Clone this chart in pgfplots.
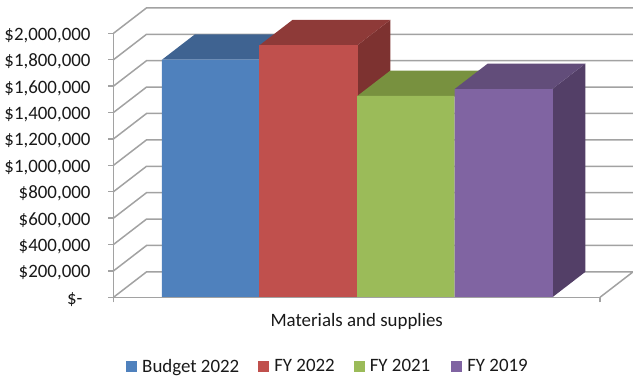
\documentclass[border=0pt]{standalone}
\usepackage{fontspec}
\setmainfont{Carlito}
\usepackage{pgfplots}
\pgfplotsset{compat=1.18}
\definecolor{wall}{HTML}{A2A2A2}
\definecolor{blueF}{HTML}{4F81BD}\definecolor{blueT}{HTML}{3F6391}
\definecolor{redF}{HTML}{C0504D}\definecolor{redT}{HTML}{8E3A38}\definecolor{redS}{HTML}{7D3230}
\definecolor{greenF}{HTML}{9BBB59}\definecolor{greenT}{HTML}{78913F}
\definecolor{purpF}{HTML}{8064A2}\definecolor{purpT}{HTML}{624D7A}\definecolor{purpS}{HTML}{533F67}
\newcommand{\lbl}{\fontsize{18.9}{22}\selectfont}
\begin{document}
\begin{tikzpicture}
\useasboundingbox (-113.5pt,-79.7pt) rectangle (519.5pt,297.3pt);
\begin{axis}[
  scale only axis, width=486.5pt, height=264pt,
  xmin=113.5, xmax=600, ymin=0, ymax=2000000,
  clip=false, axis on top,
  axis x line*=bottom, axis y line*=left,
  axis line style={draw=wall, line width=1.5pt, -},
  tick style={draw=wall, line width=1.5pt},
  tick align=outside, major tick length=5pt,
  scaled y ticks=false,
  xtick={113.5,600}, xticklabels={{},{}},
  ytick={0,200000,400000,600000,800000,1000000,1200000,1400000,1600000,1800000,2000000},
  yticklabels={{\$-\hspace*{8pt}},{\$200,000},{\$400,000},{\$600,000},{\$800,000},{\$1,000,000},{\$1,200,000},{\$1,400,000},{\$1,600,000},{\$1,800,000},{\$2,000,000}},
  yticklabel style={font=\lbl, anchor=base east, inner sep=0pt, yshift=-7pt, text=black!90},
  yticklabel shift=17.8pt,
  xlabel={Materials and supplies},
  xlabel style={font=\lbl, at={(axis description cs:0.5,-0.112)}, anchor=base, inner sep=0pt, text=black!90},
  unbounded coords=jump,
  legend style={at={(axis cs:328,-522000)}, anchor=center, draw=none, fill=none, font=\lbl,
    inner sep=0pt, text=black!90,
    /tikz/every even column/.append style={column sep=20pt},
    /tikz/every odd column/.append style={column sep=3pt}},
  legend columns=4, legend cell align=left,
  legend image code/.code={\fill[#1, draw=none] (0pt,-5.5pt) rectangle (11pt,5.5pt);},
]
% back wall, side wall and floor of the 3D frame
\addplot[draw=wall, line width=1.5pt, forget plot] coordinates {
 (113.5,0)(146.5,192400)(633,192400)(600,0)(nan,nan)
 (113.5,200000)(146.5,392400)(633,392400)(nan,nan)
 (113.5,400000)(146.5,592400)(633,592400)(nan,nan)
 (113.5,600000)(146.5,792400)(633,792400)(nan,nan)
 (113.5,800000)(146.5,992400)(633,992400)(nan,nan)
 (113.5,1000000)(146.5,1192400)(633,1192400)(nan,nan)
 (113.5,1200000)(146.5,1392400)(633,1392400)(nan,nan)
 (113.5,1400000)(146.5,1592400)(633,1592400)(nan,nan)
 (113.5,1600000)(146.5,1792400)(633,1792400)(nan,nan)
 (113.5,1800000)(146.5,1992400)(633,1992400)(nan,nan)
 (113.5,2000000)(146.5,2192400)(633,2192400)
};
% Budget 2022: 1,800,000
\addplot[fill=blueT, draw=none, forget plot] coordinates {(162,1800000)(195,1992400)(292.5,1992400)(259.5,1800000)(162,1800000)};
\addplot[fill=blueF, draw=blueF, line width=0.3pt] coordinates {(162,0)(162,1800000)(259.5,1800000)(259.5,0)(162,0)};
\addlegendentry{Budget 2022\hspace*{-3pt}}
% FY 2022: 1,909,000
\addplot[fill=redS, draw=none, forget plot] coordinates {(357.3,0)(357.3,1909000)(390.3,2101400)(390.3,192400)(357.3,0)};
\addplot[fill=redT, draw=none, forget plot] coordinates {(259.5,1909000)(292.5,2101400)(390.3,2101400)(357.3,1909000)(259.5,1909000)};
\addplot[fill=redF, draw=redF, line width=0.3pt] coordinates {(259.5,0)(259.5,1909000)(357.3,1909000)(357.3,0)(259.5,0)};
\addlegendentry{FY 2022\hspace*{-3pt}}
% FY 2021: 1,525,000
\addplot[fill=greenT, draw=none, forget plot] coordinates {(357.3,1525000)(390.3,1717400)(487.7,1717400)(454.7,1525000)(357.3,1525000)};
\addplot[fill=greenF, draw=greenF, line width=0.3pt] coordinates {(357.3,0)(357.3,1525000)(454.7,1525000)(454.7,0)(357.3,0)};
\addlegendentry{FY 2021\hspace*{-1pt}}
% FY 2019: 1,578,000
\addplot[fill=purpS, draw=none, forget plot] coordinates {(552.3,0)(552.3,1578000)(585.3,1770400)(585.3,192400)(552.3,0)};
\addplot[fill=purpT, draw=none, forget plot] coordinates {(454.7,1578000)(487.7,1770400)(585.3,1770400)(552.3,1578000)(454.7,1578000)};
\addplot[fill=purpF, draw=purpF, line width=0.3pt] coordinates {(454.7,0)(454.7,1578000)(552.3,1578000)(552.3,0)(454.7,0)};
\addlegendentry{FY 2019}
\end{axis}
\end{tikzpicture}
\end{document}
